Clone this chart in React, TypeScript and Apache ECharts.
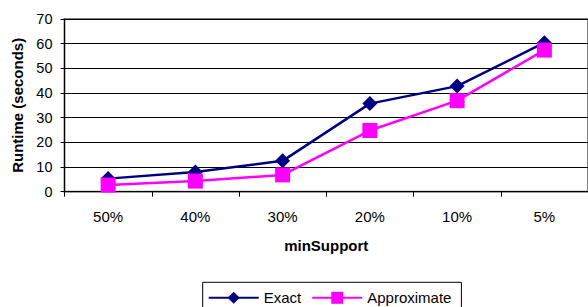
import React, { useEffect, useRef } from "react";
import * as echarts from "echarts";

const categories = ["50%", "40%", "30%", "20%", "10%", "5%"];
const exactValues = [5.3, 8.0, 12.5, 35.7, 42.8, 60.4];
const approximateValues = [2.7, 4.3, 6.8, 24.8, 36.9, 57.4];
const yTicks = { min: 0, max: 70, interval: 10 };
const seriesNames = ["Exact", "Approximate"];

const FONT = "'Liberation Sans', Arial, sans-serif";

export default function App() {
  const ref = useRef<HTMLDivElement>(null);
  useEffect(() => {
    if (!ref.current) return;
    const chart = echarts.init(ref.current, undefined, { renderer: "svg" });
    chart.setOption({
      animation: false,
      textStyle: { fontFamily: FONT, color: "#000" },
      grid: {
        left: 64.5,
        top: 19,
        bottom: 115.3,
        right: -10.2,
        show: true,
        borderColor: "#808080",
        borderWidth: 2,
        containLabel: false,
      },
      legend: {
        data: seriesNames,
        left: 202.7,
        top: 282.3,
        padding: [8, 10, 8, 5],
        itemWidth: 50,
        itemHeight: 15,
        itemGap: 10,
        borderColor: "#000",
        borderWidth: 1,
        borderRadius: 0,
        textStyle: { fontFamily: FONT, fontSize: 15, color: "#000" },
      },
      xAxis: {
        type: "category",
        data: categories,
        boundaryGap: true,
        name: "minSupport",
        nameLocation: "middle",
        nameGap: 46,
        nameTextStyle: { fontFamily: FONT, fontSize: 15, fontWeight: "bold", color: "#000" },
        axisLine: { show: true, lineStyle: { color: "#000", width: 1 } },
        axisTick: { show: true, length: 5, inside: false, lineStyle: { color: "#000" } },
        axisLabel: { fontFamily: FONT, fontSize: 15, color: "#000", margin: 17 },
        splitLine: { show: false },
      },
      yAxis: {
        type: "value",
        min: yTicks.min,
        max: yTicks.max,
        interval: yTicks.interval,
        name: "Runtime (seconds)",
        nameLocation: "middle",
        nameRotate: 90,
        nameGap: 38,
        nameTextStyle: { fontFamily: FONT, fontSize: 15, fontWeight: "bold", color: "#000" },
        axisLine: { show: true, lineStyle: { color: "#000", width: 1 } },
        axisTick: { show: true, length: 4, lineStyle: { color: "#000" } },
        axisLabel: { fontFamily: FONT, fontSize: 14.5, color: "#000", margin: 12 },
        splitLine: { show: true, lineStyle: { color: "#000", width: 1 } },
      },
      series: [
        {
          name: seriesNames[0],
          type: "line",
          data: exactValues,
          symbol: "diamond",
          symbolSize: 15,
          color: "#000080",
          lineStyle: { color: "#000080", width: 2.5 },
          itemStyle: { color: "#000080" },
        },
        {
          name: seriesNames[1],
          type: "line",
          data: approximateValues,
          symbol: "rect",
          symbolSize: 15,
          color: "#FF00FF",
          lineStyle: { color: "#FF00FF", width: 2.5 },
          itemStyle: { color: "#FF00FF" },
        },
      ],
    });
    return () => chart.dispose();
  }, []);
  return (
    <div
      ref={ref}
      style={{ position: "fixed", left: 0, top: 0, width: 588, height: 307, background: "#fff" }}
    />
  );
}
